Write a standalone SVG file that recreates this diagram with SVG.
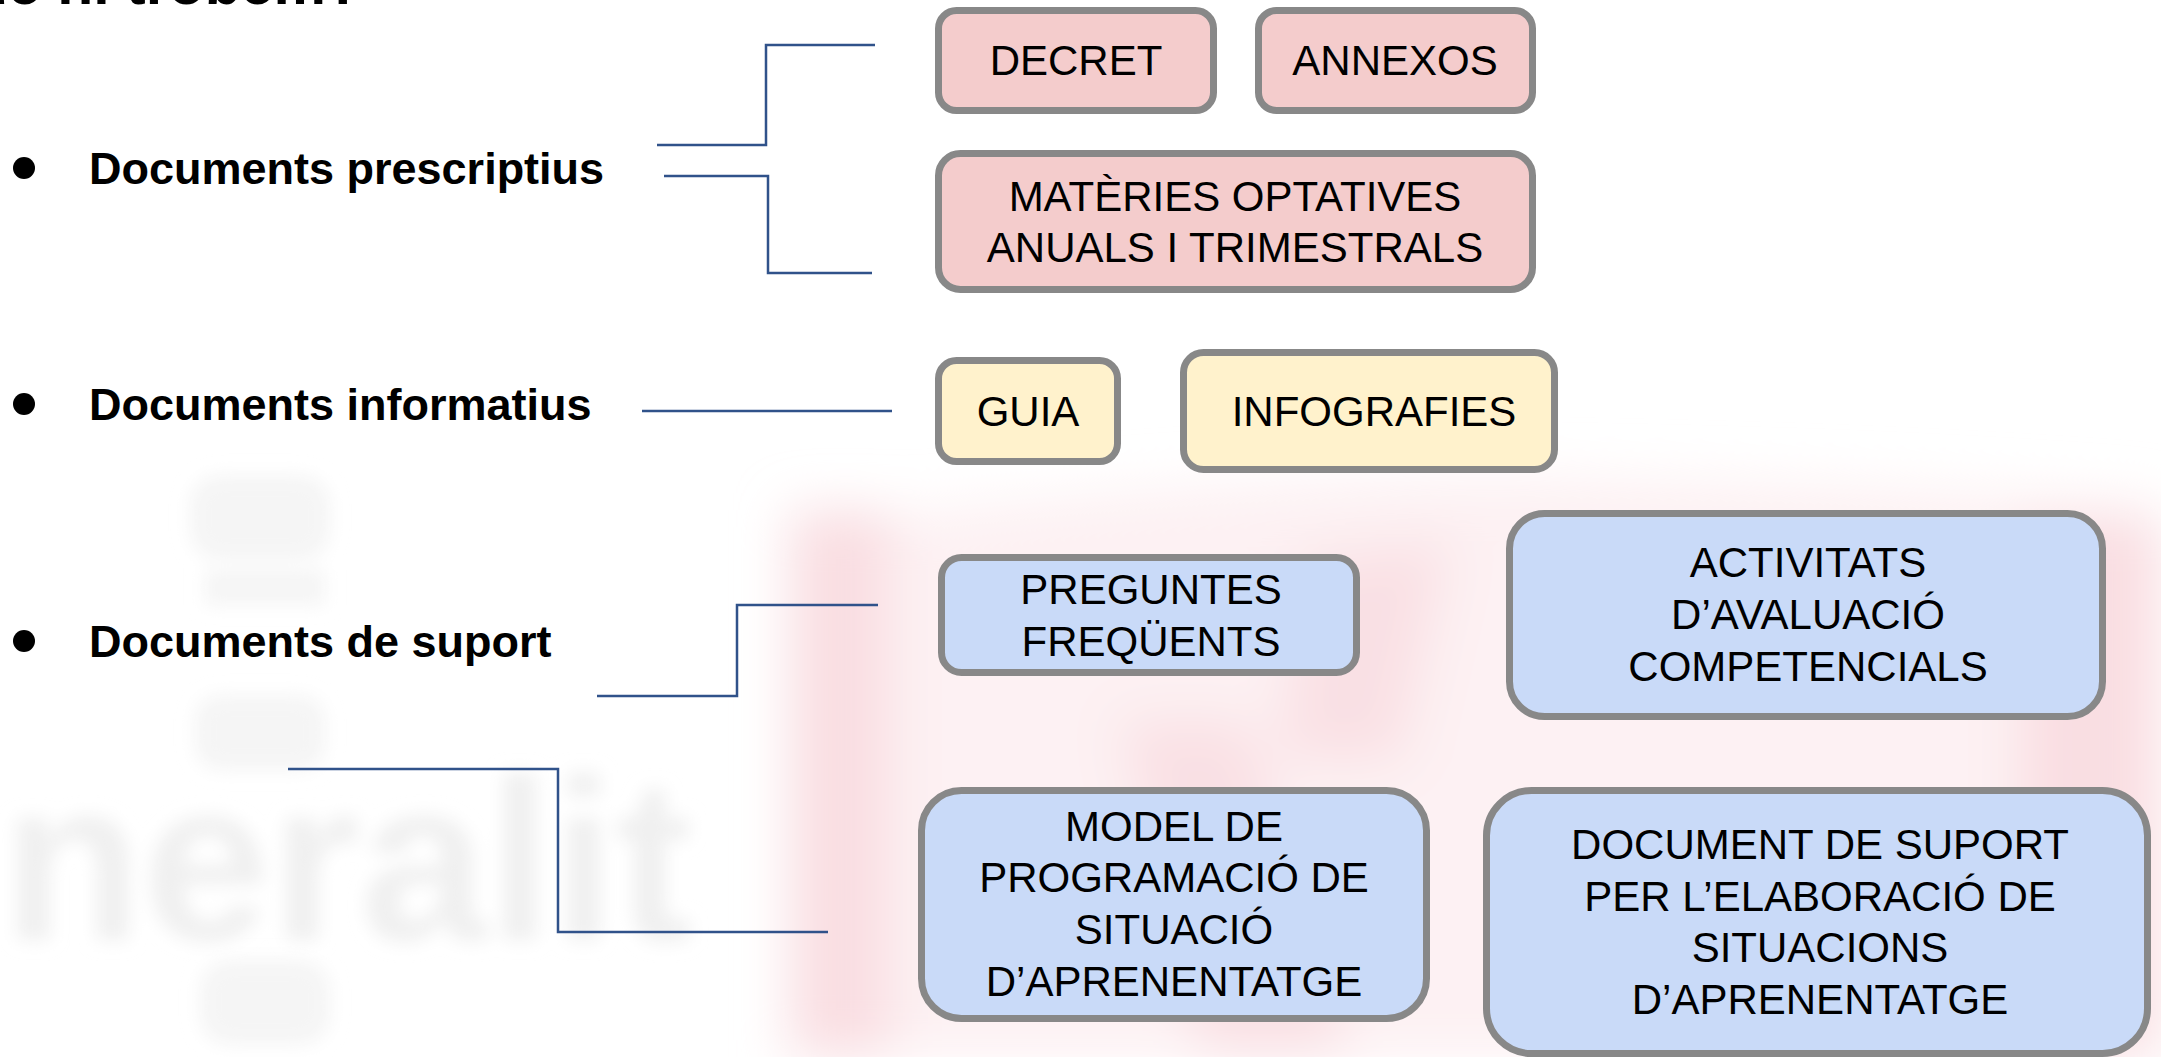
<svg xmlns="http://www.w3.org/2000/svg" width="2161" height="1057" viewBox="0 0 2161 1057">
<defs>
<style>
.box{stroke:#888888;stroke-width:7}
.pink{fill:#F4CCCC}
.yel{fill:#FFF2CC}
.blue{fill:#C9DAF8}
.lbl{font-family:"Liberation Sans",Arial,sans-serif;font-size:42px;fill:#000;text-anchor:middle}
.head{font-family:"Liberation Sans",Arial,sans-serif;font-size:45px;font-weight:bold;fill:#000}
.conn{fill:none;stroke:#30528A;stroke-width:2.5}
</style>
<filter id="blurBig" x="-20%" y="-20%" width="140%" height="140%"><feGaussianBlur stdDeviation="26"/></filter>
<filter id="blurSm" x="-20%" y="-20%" width="140%" height="140%"><feGaussianBlur stdDeviation="9"/></filter>
</defs>
<rect width="2161" height="1057" fill="#FFFFFF"/>
<g id="watermark">
<g filter="url(#blurBig)">
<path d="M790,530 Q1200,470 1600,480 Q1900,485 2161,505 L2161,1057 L790,1057 Z" fill="#FDF1F3"/>
<rect x="790" y="510" width="100" height="547" fill="#F9DEE2"/>
<rect x="2020" y="520" width="141" height="537" fill="#F9DEE2"/>
<path d="M1300,560 L1450,540 L1400,760 L1280,760 Z" fill="#F9E0E4"/>
<path d="M1120,720 L1250,720 L1350,1057 L1200,1057 Z" fill="#F9E0E4"/>
</g>
<g filter="url(#blurSm)" fill="#F5F5F5">
<rect x="190" y="475" width="140" height="85" rx="30"/>
<rect x="205" y="570" width="120" height="35"/>
<rect x="195" y="695" width="130" height="75" rx="25"/>
<rect x="200" y="960" width="130" height="85" rx="30"/>
</g>
<text x="2" y="940" font-family="Liberation Sans,Arial,sans-serif" font-weight="bold" font-size="230" fill="#F0F0F0" filter="url(#blurSm)">neralit</text>
</g>
<text x="362" y="4" class="head" style="font-size:59px" text-anchor="end">Què hi trobem?</text>
<g id="connectors">
<path class="conn" d="M657,145 H766 V45 H875"/>
<path class="conn" d="M664,176 H768 V273 H872"/>
<path class="conn" d="M642,411 H892"/>
<path class="conn" d="M597,696 H737 V605 H878"/>
<path class="conn" d="M288,769 H558 V932 H828"/>
</g>
<g id="cat-prescriptius">
<circle cx="24" cy="168" r="11" fill="#000"/>
<text class="head" x="89" y="184">Documents prescriptius</text>
</g>
<g id="cat-informatius">
<circle cx="24" cy="404" r="11" fill="#000"/>
<text class="head" x="89" y="420">Documents informatius</text>
</g>
<g id="cat-suport">
<circle cx="24" cy="641" r="11" fill="#000"/>
<text class="head" x="89" y="657">Documents de suport</text>
</g>
<g id="decret">
<rect class="box pink" x="938.5" y="10.5" width="275" height="100" rx="18"/>
<text class="lbl" x="1076" y="75">DECRET</text>
</g>
<g id="annexos">
<rect class="box pink" x="1258.5" y="10.5" width="274" height="100" rx="18"/>
<text class="lbl" x="1395" y="75">ANNEXOS</text>
</g>
<g id="materies">
<rect class="box pink" x="938.5" y="153.5" width="594" height="136" rx="22"/>
<text class="lbl" x="1235" y="211">MATÈRIES OPTATIVES</text>
<text class="lbl" x="1235" y="262">ANUALS I TRIMESTRALS</text>
</g>
<g id="guia">
<rect class="box yel" x="938.5" y="360.5" width="179" height="101" rx="18"/>
<text class="lbl" x="1028" y="426">GUIA</text>
</g>
<g id="infografies">
<rect class="box yel" x="1183.5" y="352.5" width="371" height="117" rx="20"/>
<text class="lbl" x="1374" y="426">INFOGRAFIES</text>
</g>
<g id="preguntes">
<rect class="box blue" x="941.5" y="557.5" width="415" height="115" rx="20"/>
<text class="lbl" x="1151" y="604">PREGUNTES</text>
<text class="lbl" x="1151" y="656">FREQÜENTS</text>
</g>
<g id="activitats">
<rect class="box blue" x="1509.5" y="513.5" width="593" height="203" rx="35"/>
<text class="lbl" x="1808" y="577">ACTIVITATS</text>
<text class="lbl" x="1808" y="629">D’AVALUACIÓ</text>
<text class="lbl" x="1808" y="681">COMPETENCIALS</text>
</g>
<g id="model">
<rect class="box blue" x="921.5" y="790.5" width="505" height="228" rx="40"/>
<text class="lbl" x="1174" y="841">MODEL DE</text>
<text class="lbl" x="1174" y="892">PROGRAMACIÓ DE</text>
<text class="lbl" x="1174" y="944">SITUACIÓ</text>
<text class="lbl" x="1174" y="996">D’APRENENTATGE</text>
</g>
<g id="document">
<rect class="box blue" x="1486.5" y="790.5" width="661" height="263" rx="45"/>
<text class="lbl" x="1820" y="859">DOCUMENT DE SUPORT</text>
<text class="lbl" x="1820" y="911">PER L’ELABORACIÓ DE</text>
<text class="lbl" x="1820" y="962">SITUACIONS</text>
<text class="lbl" x="1820" y="1014">D’APRENENTATGE</text>
</g>
</svg>
